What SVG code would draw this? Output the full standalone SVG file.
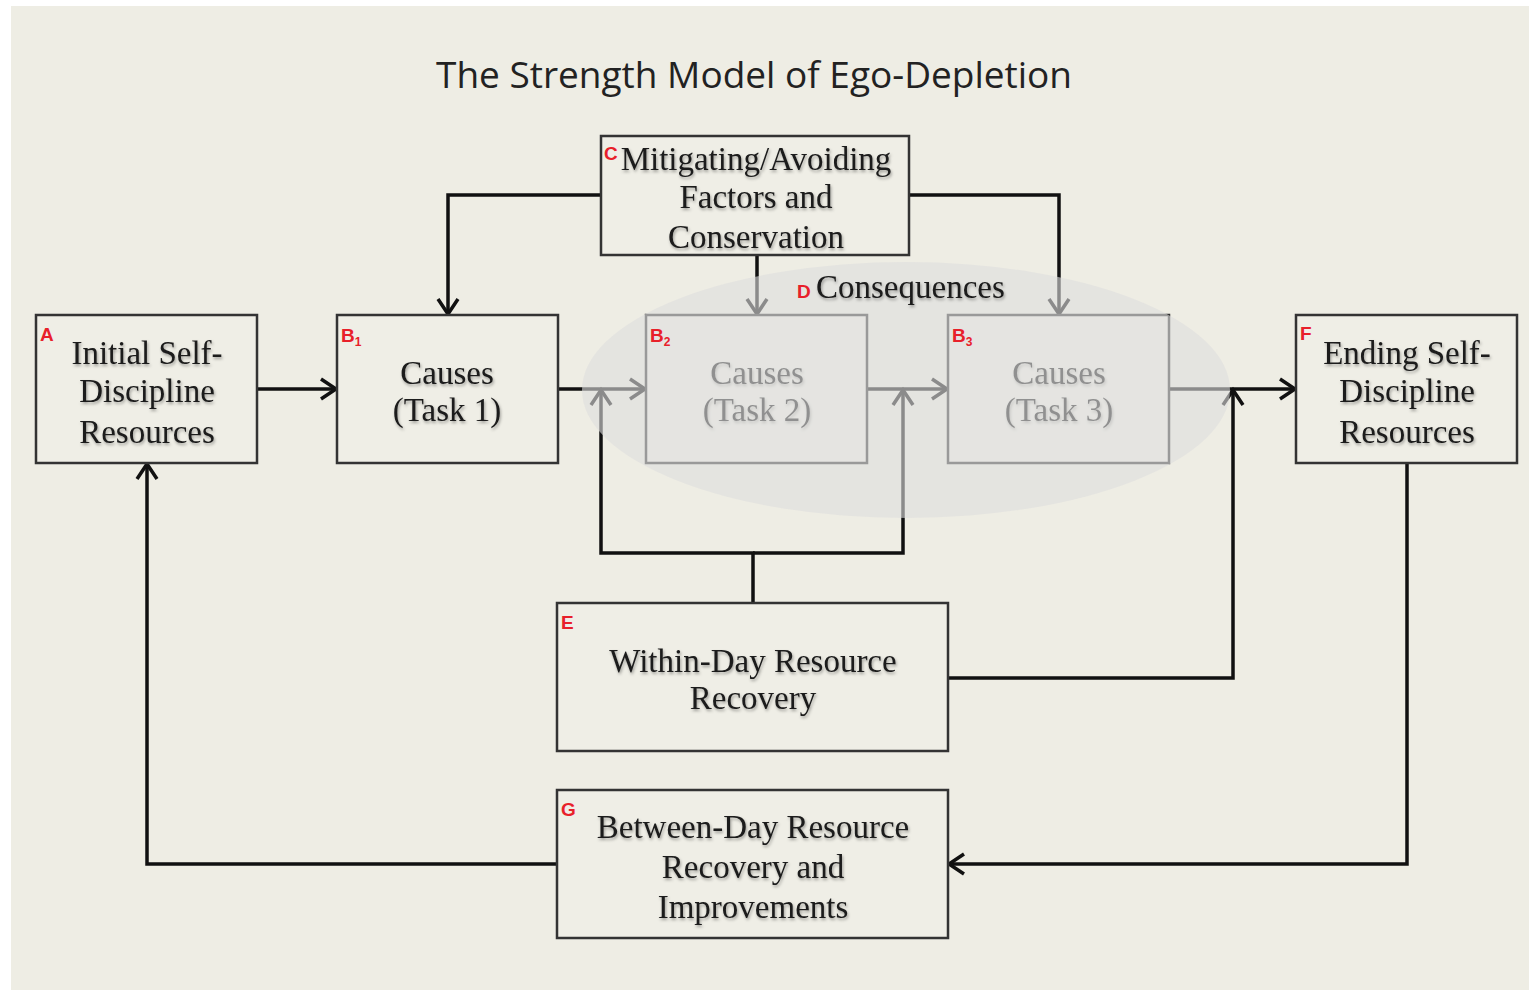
<svg xmlns="http://www.w3.org/2000/svg" width="1529" height="990" viewBox="0 0 1529 990">
<defs>
<style>
.box{fill:#efeee6;stroke:#333;stroke-width:2.5}
.t{font-family:"Liberation Serif","Times New Roman",serif;font-size:33px;fill:#1a1a1a;text-anchor:middle}
.lab{font-family:"Liberation Sans",Arial,sans-serif;font-weight:bold;font-size:19px;fill:#e8202a}
.sub{font-size:12px}
.c{fill:none;stroke:#111;stroke-width:3.5}
</style>
<filter id="sh" x="-10%" y="-20%" width="120%" height="150%">
<feDropShadow dx="1" dy="2" stdDeviation="1.4" flood-color="#000" flood-opacity="0.35"/>
</filter>
<marker id="ar" viewBox="0 0 20 24" refX="18" refY="12" markerWidth="20" markerHeight="24" markerUnits="userSpaceOnUse" orient="auto" overflow="visible">
<path d="M3,2 L18,12 L3,22" fill="none" stroke="#111" stroke-width="3.5" stroke-linejoin="miter"/>
</marker>
</defs>
<rect x="0" y="0" width="1529" height="990" fill="#fff"/>
<rect x="11" y="6" width="1518" height="984" fill="#eeede4"/>
<text x="754" y="88" font-family="'Open Sans','Noto Sans',sans-serif" font-size="37" fill="#222" text-anchor="middle">The Strength Model of Ego-Depletion</text>

<g id="connectors">
<path class="c" d="M257,389 H336" marker-end="url(#ar)"/>
<path class="c" d="M558,389 H645" marker-end="url(#ar)"/>
<path class="c" d="M867,389 H947" marker-end="url(#ar)"/>
<path class="c" d="M1169,389 H1295" marker-end="url(#ar)"/>
<path class="c" d="M601,195 H448 V314" marker-end="url(#ar)"/>
<path class="c" d="M909,195 H1059 V314" marker-end="url(#ar)"/>
<path class="c" d="M757,255 V314" marker-end="url(#ar)"/>
<path class="c" d="M753,603 V553 H601 V390" marker-end="url(#ar)"/>
<path class="c" d="M753,553 H903 V390" marker-end="url(#ar)"/>
<path class="c" d="M948,678 H1233 V390" marker-end="url(#ar)"/>
<path class="c" d="M1407,463 V864 H949" marker-end="url(#ar)"/>
<path class="c" d="M557,864 H147 V464" marker-end="url(#ar)"/>
</g>

<g id="A">
<rect class="box" x="36" y="315" width="221" height="148"/>
<text class="lab" x="40" y="341">A</text>
<g filter="url(#sh)"><text class="t" x="147" y="364">Initial Self-</text><text class="t" x="147" y="402">Discipline</text><text class="t" x="147" y="443">Resources</text></g>
</g>
<g id="B1">
<rect class="box" x="337" y="315" width="221" height="148"/>
<text class="lab" x="341" y="342">B<tspan class="sub" dy="4">1</tspan></text>
<g filter="url(#sh)"><text class="t" x="447" y="384">Causes</text><text class="t" x="447" y="421">(Task 1)</text></g>
</g>
<g id="B2">
<rect class="box" x="646" y="315" width="221" height="148"/>
<g filter="url(#sh)"><text class="t" x="757" y="384">Causes</text><text class="t" x="757" y="421">(Task 2)</text></g>
</g>
<g id="B3">
<rect class="box" x="948" y="315" width="221" height="148"/>
<g filter="url(#sh)"><text class="t" x="1059" y="384">Causes</text><text class="t" x="1059" y="421">(Task 3)</text></g>
</g>
<g id="C">
<rect class="box" x="601" y="136" width="308" height="119"/>
<text class="lab" x="604" y="160">C</text>
<g filter="url(#sh)"><text class="t" x="756" y="170">Mitigating/Avoiding</text><text class="t" x="756" y="208">Factors and</text><text class="t" x="756" y="248">Conservation</text></g>
</g>
<g id="F">
<rect class="box" x="1296" y="315" width="221" height="148"/>
<text class="lab" x="1300" y="340">F</text>
<g filter="url(#sh)"><text class="t" x="1407" y="364">Ending Self-</text><text class="t" x="1407" y="402">Discipline</text><text class="t" x="1407" y="443">Resources</text></g>
</g>
<g id="E">
<rect class="box" x="557" y="603" width="391" height="148"/>
<text class="lab" x="561" y="629">E</text>
<g filter="url(#sh)"><text class="t" x="753" y="672">Within-Day Resource</text><text class="t" x="753" y="709">Recovery</text></g>
</g>
<g id="G">
<rect class="box" x="557" y="790" width="391" height="148"/>
<text class="lab" x="561" y="816">G</text>
<g filter="url(#sh)"><text class="t" x="753" y="838">Between-Day Resource</text><text class="t" x="753" y="878">Recovery and</text><text class="t" x="753" y="918">Improvements</text></g>
</g>
<g id="D">
<ellipse cx="906" cy="390" rx="324" ry="128" fill="#dedede" fill-opacity="0.6"/>
<text class="lab" x="797" y="298">D</text>
<text x="816" y="298" font-family="'Liberation Serif','Times New Roman',serif" font-size="33" fill="#1a1a1a" filter="url(#sh)">Consequences</text>
<text class="lab" x="650" y="342">B<tspan class="sub" dy="4">2</tspan></text>
<text class="lab" x="952" y="342">B<tspan class="sub" dy="4">3</tspan></text>
</g>
</svg>
